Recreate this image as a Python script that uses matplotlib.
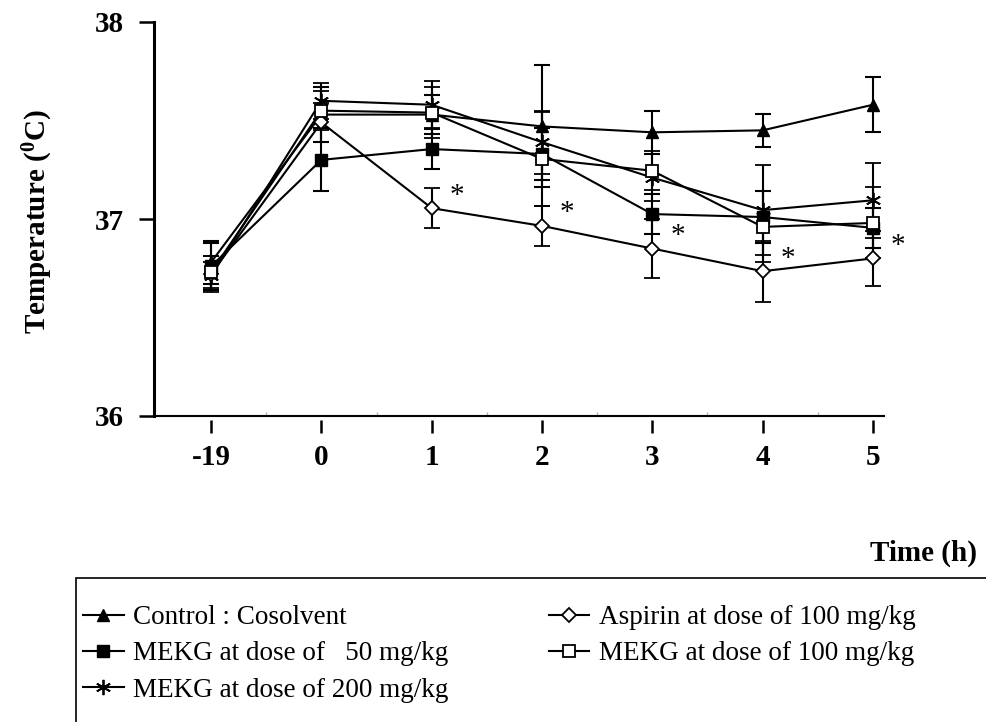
import matplotlib
matplotlib.use("Agg")
import matplotlib.pyplot as plt
from matplotlib.patches import Rectangle

plt.rcParams['font.family'] = 'Liberation Serif'
plt.rcParams['font.weight'] = 'bold'
plt.rcParams['mathtext.fontset'] = 'custom'
plt.rcParams['mathtext.bf'] = 'Liberation Serif:bold'
plt.rcParams['mathtext.rm'] = 'Liberation Serif:bold'
plt.rcParams['mathtext.default'] = 'bf'

# rectal temperature, mean and error per group
time_labels = ['-19', '0', '1', '2', '3', '4', '5']

control = [36.78, 37.53, 37.53, 37.47, 37.44, 37.45, 37.58]
control_err = [0.11, 0.14, 0.10, 0.31, 0.11, 0.085, 0.14]

mekg50 = [36.76, 37.30, 37.355, 37.33, 37.025, 37.01, 36.955]
mekg50_err = [0.12, 0.16, 0.10, 0.13, 0.10, 0.13, 0.10]

mekg100 = [36.73, 37.55, 37.54, 37.305, 37.245, 36.96, 36.98]
mekg100_err = [0.08, 0.10, 0.13, 0.24, 0.10, 0.18, 0.18]

mekg200 = [36.71, 37.60, 37.58, 37.39, 37.21, 37.045, 37.095]
mekg200_err = [0.07, 0.09, 0.12, 0.16, 0.12, 0.23, 0.19]

aspirin = [36.72, 37.49, 37.055, 36.965, 36.85, 36.735, 36.80]
aspirin_err = [0.09, 0.10, 0.10, 0.10, 0.15, 0.155, 0.14]

# significant vs control (aspirin)
signif = [False, False, True, True, True, True, True]

x = list(range(len(time_labels)))

fig = plt.figure(figsize=(9.87, 7.22), dpi=100)
ax = fig.add_axes([154/987, 306/722, 730/987, 394/722])

common = dict(color='k', lw=1.5, capsize=5.8, capthick=1.5, elinewidth=1.5, mec='k')
series = [
    (control, control_err, dict(marker='^', ms=9, mfc='k'), 'Control : Cosolvent'),
    (mekg50, mekg50_err, dict(marker='s', ms=8.5, mfc='k'), 'MEKG at dose of   50 mg/kg'),
    (mekg200, mekg200_err, dict(marker=(6, 2, 0), ms=11, mew=1.3), 'MEKG at dose of 200 mg/kg'),
    (aspirin, aspirin_err, dict(marker='D', ms=7.5, mfc='white', mew=1.3), 'Aspirin at dose of 100 mg/kg'),
    (mekg100, mekg100_err, dict(marker='s', ms=8.5, mfc='white', mew=1.3), 'MEKG at dose of 100 mg/kg'),
]

handles = []
labels = []
for y, err, style, lab in series:
    c = ax.errorbar(x, y, yerr=err, **common, **style)
    handles.append(c[0])
    labels.append(lab)

for i in x:
    if signif[i]:
        ax.annotate('*', (i, aspirin[i]), xytext=(13, 9), textcoords='offset points',
                    fontsize=21, fontweight='normal', ha='left', va='center')

ax.set_ylim(36, 38)
ax.set_yticks([36, 37, 38])
ax.set_xlim(-0.517, 6.1)
ax.set_xticks(x)
ax.tick_params(axis='x', which='major', length=0, labelbottom=False)
ax.set_xticks([i + 0.5 for i in range(6)], minor=True)
ax.tick_params(axis='x', which='minor', direction='in', length=3, width=1, color='#b0b0b0')
ax.tick_params(axis='y', length=11, width=1.8, pad=11, labelsize=21)

ax.spines['top'].set_visible(False)
ax.spines['right'].set_visible(False)
ax.spines['left'].set_linewidth(2.2)
ax.spines['bottom'].set_linewidth(1.5)

# tick marks sit a little below the axis line
sec = ax.secondary_xaxis(-0.01)
sec.set_xticks(x, time_labels)
sec.spines['bottom'].set_visible(False)
sec.tick_params(length=9.5, width=1.8, pad=8, labelsize=21)

fig.text(38/987, (722 - 222)/722, 'Temperature ($^{0}$C)', rotation=90,
         ha='center', va='center', fontsize=21)
fig.text(977/987, (722 - 553)/722, 'Time (h)', ha='right', va='center', fontsize=21)

# legend box running off the page
fig.add_artist(Rectangle((76/987, -0.05), 1.0, (722 - 578)/722 + 0.05, fill=False,
                         lw=1.2, ec='k', transform=fig.transFigure))
fig.legend(handles, labels, ncol=2, loc='upper left',
           bbox_to_anchor=(83/987, (722 - 605)/722), frameon=False,
           prop={'weight': 'normal', 'size': 19.5}, numpoints=1,
           handlelength=1.5, handletextpad=0.35, columnspacing=3.7,
           labelspacing=0.42, borderpad=0, borderaxespad=0)

fig.savefig('out.png', dpi=100)
